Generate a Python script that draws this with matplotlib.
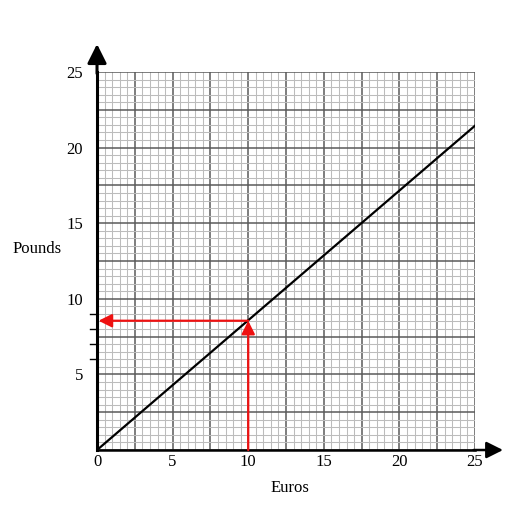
import matplotlib
matplotlib.use("Agg")
import matplotlib.pyplot as plt
import numpy as np

plt.rcParams['font.family'] = ['Liberation Serif', 'DejaVu Serif']

# conversion graph data
euros = [0, 25]
pounds = [0, 21.45]
read_euros = 10
read_pounds = 8.55
small_marks = [6, 7, 8, 9]

fig = plt.figure(figsize=(5.29, 5.29), dpi=100)
ax = fig.add_axes([0.1834, 0.1493, 0.7146, 0.7146])
ax.set_xlim(0, 25)
ax.set_ylim(0, 25)

# graph paper grid
major = np.arange(0, 25.01, 2.5)
ax.set_xticks(major)
ax.set_yticks(major)
ax.set_xticks(np.arange(0, 25.01, 0.5), minor=True)
ax.set_yticks(np.arange(0, 25.01, 0.5), minor=True)
ax.grid(which='minor', color='#bcbcbc', lw=0.75)
ax.grid(which='major', color='#5a5a5a', lw=1.1)
ax.set_axisbelow(True)
ax.tick_params(which='both', length=0)
ax.set_xticklabels([str(int(v)) if v % 5 == 0 else '' for v in major], fontsize=12)
ax.set_yticklabels([str(int(v)) if (v % 5 == 0 and v > 0) else '' for v in major],
                   fontsize=12)
ax.tick_params(axis='x', pad=3)
ax.tick_params(axis='y', pad=10)

for s in ['top', 'right']:
    ax.spines[s].set_visible(False)
ax.spines['left'].set_linewidth(2.2)
ax.spines['bottom'].set_linewidth(1.8)

# axis arrows
ax.annotate('', xy=(0, 26.85), xytext=(0, 24.9), annotation_clip=False,
            arrowprops=dict(arrowstyle='-|>', color='black', lw=2.2,
                            mutation_scale=29, shrinkA=0, shrinkB=0))
ax.annotate('', xy=(26.85, 0), xytext=(24.9, 0), annotation_clip=False,
            arrowprops=dict(arrowstyle='-|>', color='black', lw=1.8,
                            mutation_scale=25, shrinkA=0, shrinkB=0))

# small marks on y axis
for m in small_marks:
    ax.plot([-0.45, 0], [m, m], color='black', lw=1, clip_on=False)

# conversion line
ax.plot(euros, pounds, color='black', lw=1.6)

# reading arrows
ax.annotate('', xy=(read_euros, read_pounds), xytext=(read_euros, 0),
            arrowprops=dict(arrowstyle='-|>', color='#ee1111', lw=1.6,
                            mutation_scale=20, shrinkA=0, shrinkB=0))
ax.annotate('', xy=(0.1, read_pounds), xytext=(read_euros, read_pounds),
            arrowprops=dict(arrowstyle='-|>', color='#ee1111', lw=1.6,
                            mutation_scale=20, shrinkA=0, shrinkB=0))

fig.text(37 / 529, 1 - 249 / 529, 'Pounds', fontsize=12, ha='center', va='center')
fig.text(290 / 529, 1 - 488 / 529, 'Euros', fontsize=12, ha='center', va='center')

fig.savefig('out.png', dpi=100)
